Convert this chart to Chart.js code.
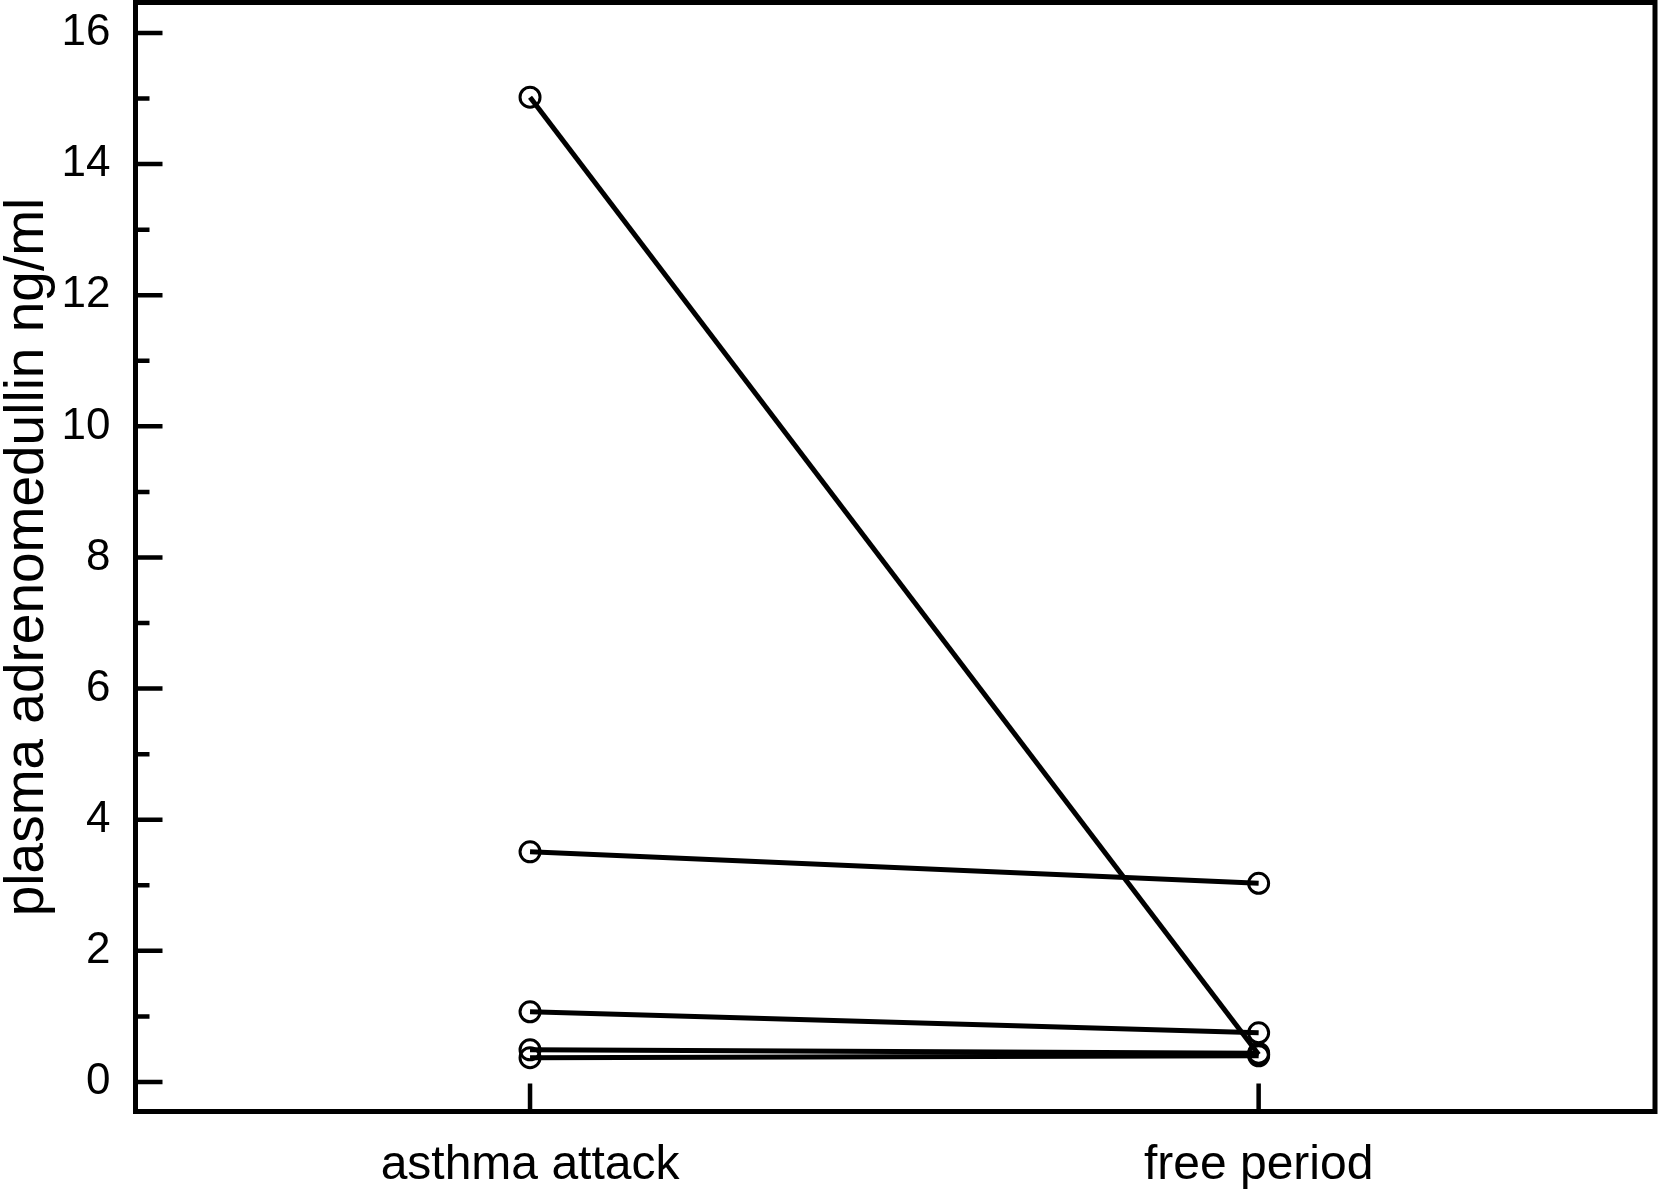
<!DOCTYPE html>
<html>
<head>
<meta charset="utf-8">
<title>plasma adrenomedullin</title>
<script src="https://cdn.jsdelivr.net/npm/chart.js@4"></script>
<style>
  html, body { margin: 0; padding: 0; background: #fff; }
  #wrap { width: 1658px; height: 1189px; position: relative; }
</style>
</head>
<body>
<div id="wrap"><canvas id="chart"></canvas></div>
<script>
// Categories and values (one entry per patient)
const categories = ['asthma attack', 'free period'];
const asthmaAttack = [15.02, 3.51, 1.07, 0.49, 0.37];
const freePeriod = [0.42, 3.03, 0.75, 0.44, 0.40];

// Tick values
const yMajorTicks = [0, 2, 4, 6, 8, 10, 12, 14, 16];
const yMinorTicks = [1, 3, 5, 7, 9, 11, 13, 15];
const xTicks = [0, 1];

const yTitle = 'plasma adrenomedullin ng/ml';

// one line per patient
const datasets = asthmaAttack.map((a, i) => ({
    data: [{ x: 0, y: a }, { x: 1, y: freePeriod[i] }],
    borderColor: '#000',
    borderWidth: 5,
    showLine: true,
    pointRadius: 10,
    pointBorderWidth: 3,
    pointBorderColor: '#000',
    pointBackgroundColor: 'rgba(0,0,0,0)',
    pointHoverRadius: 10
}));

// frame + inward ticks drawn with the chart's own scales
const framePlugin = {
    id: 'frame',
    afterDraw(chart) {
        const { ctx, chartArea } = chart;
        const xs = chart.scales.x;
        const ys = chart.scales.y;
        ctx.save();
        ctx.strokeStyle = '#000';
        ctx.lineWidth = 5;
        ctx.strokeRect(chartArea.left, chartArea.top,
            chartArea.right - chartArea.left, chartArea.bottom - chartArea.top);

        ctx.lineWidth = 4.5;
        ctx.beginPath();
        yMajorTicks.forEach(v => {
            const y = ys.getPixelForValue(v);
            ctx.moveTo(chartArea.left, y);
            ctx.lineTo(chartArea.left + 27, y);
        });
        yMinorTicks.forEach(v => {
            const y = ys.getPixelForValue(v);
            ctx.moveTo(chartArea.left, y);
            ctx.lineTo(chartArea.left + 14, y);
        });
        xTicks.forEach(v => {
            const x = xs.getPixelForValue(v);
            ctx.moveTo(x, chartArea.bottom);
            ctx.lineTo(x, chartArea.bottom - 28);
        });
        ctx.stroke();
        ctx.restore();
    }
};

new Chart(document.getElementById('chart'), {
    type: 'scatter',
    data: { datasets },
    options: {
        responsive: true,
        maintainAspectRatio: false,
        animation: false,
        layout: { autoPadding: false, padding: { top: 2.5, right: 3, left: 0, bottom: 0 } },
        plugins: {
            legend: { display: false },
            tooltip: { enabled: false }
        },
        scales: {
            x: {
                type: 'linear',
                min: -0.5415,
                max: 1.544,
                grid: { display: false },
                border: { display: false },
                afterBuildTicks: scale => { scale.ticks = xTicks.map(v => ({ value: v })); },
                afterFit: scale => {
                    scale.height = 77.5;
                    scale.paddingLeft = 0;
                    scale.paddingRight = 0;
                },
                ticks: {
                    color: '#000',
                    padding: 17,
                    font: { family: '"Liberation Sans", Arial, sans-serif', size: 48 },
                    callback: v => categories[v] !== undefined ? categories[v] : ''
                }
            },
            y: {
                min: -0.45,
                max: 16.465,
                grid: { display: false },
                border: { display: false },
                afterBuildTicks: scale => { scale.ticks = yMajorTicks.map(v => ({ value: v })); },
                afterFit: scale => {
                    scale.width = 135.5;
                    scale.paddingTop = 0;
                    scale.paddingBottom = 0;
                },
                ticks: {
                    color: '#000',
                    padding: 17,
                    font: { family: '"Liberation Sans", Arial, sans-serif', size: 44 }
                },
                title: {
                    display: true,
                    text: yTitle,
                    color: '#000',
                    padding: 0,
                    font: { family: '"Liberation Sans", Arial, sans-serif', size: 55, lineHeight: 1 }
                }
            }
        }
    },
    plugins: [framePlugin]
});
</script>
</body>
</html>
